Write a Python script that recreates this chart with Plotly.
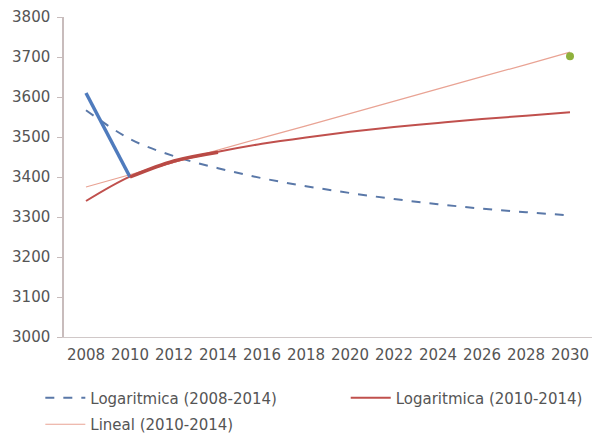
import plotly.graph_objects as go

years = [2008, 2010, 2012, 2014, 2016, 2018, 2020, 2022, 2024, 2026, 2028, 2030]
log_0814 = [3567, 3495, 3452, 3422, 3397, 3377, 3360, 3345, 3332, 3321, 3312, 3304]
log_1014 = [3340, 3401, 3438, 3463, 3483, 3499, 3513, 3525, 3535, 3545, 3553, 3562]
lin_1014 = [3375, 3406, 3436, 3467, 3498, 3528, 3559, 3590, 3620, 3651, 3681, 3712]

obs_blue_x = [2008, 2010]
obs_blue_y = [3610, 3400]
obs_red_x = [2010, 2012, 2014]
obs_red_y = [3400, 3440, 3462]
target_x = [2030]
target_y = [3702]

yticks = [3000, 3100, 3200, 3300, 3400, 3500, 3600, 3700, 3800]

fig = go.Figure()
fig.add_trace(go.Scatter(x=years, y=log_0814, mode="lines", name="Logaritmica (2008-2014)",
                         legend="legend", legendgroup="a",
                         line=dict(color="#5a78a8", width=2, dash="dash", shape="spline")))
fig.add_trace(go.Scatter(x=years, y=log_1014, mode="lines", name="Logaritmica (2010-2014)",
                         legend="legend2",
                         line=dict(color="#c0504d", width=2, shape="spline")))
fig.add_trace(go.Scatter(x=years, y=lin_1014, mode="lines", name="Lineal (2010-2014)",
                         legend="legend", legendgroup="b",
                         line=dict(color="#e9a394", width=1.2)))
fig.add_trace(go.Scatter(x=obs_blue_x, y=obs_blue_y, mode="lines", showlegend=False,
                         line=dict(color="#4f7bbd", width=3.5)))
fig.add_trace(go.Scatter(x=obs_red_x, y=obs_red_y, mode="lines", showlegend=False,
                         line=dict(color="#b94a45", width=3.5, shape="spline")))
fig.add_trace(go.Scatter(x=target_x, y=target_y, mode="markers", showlegend=False,
                         marker=dict(color="#8fb13c", size=8)))

legfont = dict(size=15, color="#555555")
fig.update_layout(
    width=593, height=435,
    margin=dict(l=64, r=1, t=17, b=98, autoexpand=False),
    paper_bgcolor="white", plot_bgcolor="white",
    font=dict(family="DejaVu Sans", color="#555555"),
    legend=dict(orientation="v", xref="container", x=0.068, xanchor="left",
                yref="container", y=0.123, yanchor="top", font=legfont,
                itemwidth=40, tracegroupgap=4, bgcolor="rgba(0,0,0,0)"),
    legend2=dict(orientation="v", xref="container", x=0.583, xanchor="left",
                 yref="container", y=0.123, yanchor="top", font=legfont,
                 itemwidth=40, bgcolor="rgba(0,0,0,0)"),
    xaxis=dict(range=[2007, 2031], tickmode="array", tickvals=years,
               ticktext=[str(y) for y in years], showgrid=False, zeroline=False,
               showline=True, linecolor="#d0c8c8", linewidth=1, automargin=False,
               ticks="", ticklabelstandoff=4, tickfont=dict(size=15, color="#555555")),
    yaxis=dict(range=[3000, 3800], tickmode="array", tickvals=yticks,
               showgrid=False, zeroline=False, showline=True, linecolor="#c8bcbc",
               linewidth=1.5, ticks="outside", ticklen=5, tickcolor="#c8bcbc",
               automargin=False,
               ticklabelstandoff=4, tickfont=dict(size=15, color="#555555")),
)

fig.write_html("out.html")
